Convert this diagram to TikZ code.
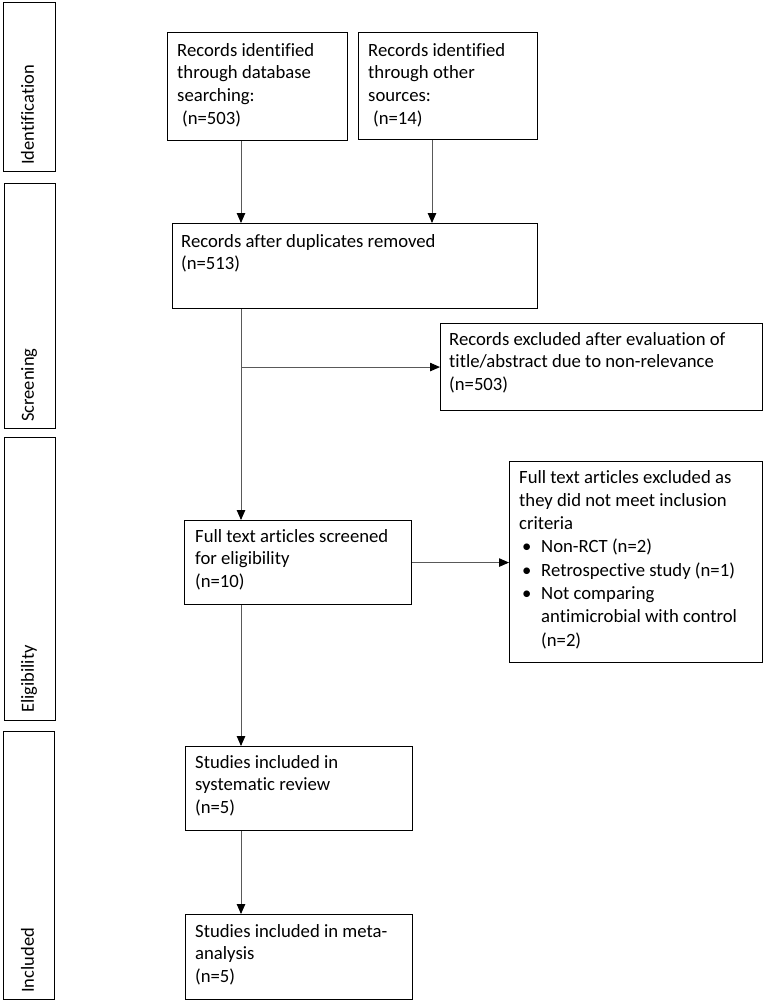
\documentclass[tikz,border=0pt]{standalone}
\usepackage{fontspec}
\setmainfont{Carlito}[Ligatures=NoCommon]
\usetikzlibrary{arrows.meta,calc}
\newcommand{\flowtext}[1]{\begin{tabular}[t]{@{}l@{}}#1\end{tabular}}
\begin{document}
\begin{tikzpicture}[x=1pt,y=-1pt,
  frame/.style={draw=black, line width=1.1pt, inner sep=0pt, anchor=north west},
  txt/.style={anchor=base west, inner sep=0pt, font=\fontsize{18.7}{22.7}\selectfont},
  lab/.style={rotate=90, anchor=base west, inner sep=0pt, font=\fontsize{18.5}{22}\selectfont},
  conn/.style={draw=black!65, line width=0.9pt},
  arr/.style={conn, -{Triangle[length=10pt,width=8.5pt,color=black]}}]
\useasboundingbox (0,0) rectangle (765,1002);
% stage boxes
\node[frame, minimum width=52pt, minimum height=169pt] (id) at (3,2) {};
\node[frame, minimum width=51pt, minimum height=245pt] (scr) at (4,183) {};
\node[frame, minimum width=51pt, minimum height=283pt] (eli) at (4,437) {};
\node[frame, minimum width=51pt, minimum height=268pt] (inc) at (3,731) {};
\node[lab] (idt) at (34,165) {Identification};
\node[lab] (scrt) at (34,422) {Screening};
\node[lab] (elit) at (34,713) {Eligibility};
\node[lab] (inct) at (34,993) {Included};
% flow boxes
\node[frame, minimum width=180pt, minimum height=108pt] (b1) at (167,32) {};
\node[frame, minimum width=179pt, minimum height=107pt] (b2) at (358,32) {};
\node[frame, minimum width=365pt, minimum height=85pt] (dup) at (172,223) {};
\node[frame, minimum width=322pt, minimum height=87pt] (ex1) at (440,323) {};
\node[frame, minimum width=227pt, minimum height=84pt] (scrd) at (184,520) {};
\node[frame, minimum width=253pt, minimum height=201pt] (ex2) at (509,461) {};
\node[frame, minimum width=227pt, minimum height=84pt] (sys) at (185,746) {};
\node[frame, minimum width=227pt, minimum height=85pt] (meta) at (185,914) {};
% texts
\node[txt] (b1t) at ($(b1.north west)+(10,24)$) {\flowtext{Records identified\\through database\\searching:\\\hspace*{5pt}(n=503)}};
\node[txt] (b2t) at ($(b2.north west)+(10,24)$) {\flowtext{Records identified\\through other\\sources:\\\hspace*{5pt}(n=14)}};
\node[txt] (dupt) at ($(dup.north west)+(9,24)$) {\flowtext{Records after duplicates removed\\(n=513)}};
\node[txt] (ex1t) at ($(ex1.north west)+(9,22)$) {\flowtext{Records excluded after evaluation of\\title/abstract due to non-relevance\\(n=503)}};
\node[txt] (scrdt) at ($(scrd.north west)+(11,22)$) {\flowtext{Full text articles screened\\for eligibility\\(n=10)}};
\node[txt, font=\fontsize{18.7}{23.3}\selectfont] (ex2t) at ($(ex2.north west)+(10,22)$) {\flowtext{Full text articles excluded as\\they did not meet inclusion\\criteria\\
\hspace*{3pt}\makebox[19pt][l]{\textbullet}Non-RCT (n=2)\\
\hspace*{3pt}\makebox[19pt][l]{\textbullet}Retrospective study (n=1)\\
\hspace*{3pt}\makebox[19pt][l]{\textbullet}Not comparing\\
\hspace*{22pt}antimicrobial with control\\
\hspace*{22pt}(n=2)}};
\node[txt] (syst) at ($(sys.north west)+(10,22)$) {\flowtext{Studies included in\\systematic review\\(n=5)}};
\node[txt] (metat) at ($(meta.north west)+(10,23)$) {\flowtext{Studies included in meta-\\analysis\\(n=5)}};
% connectors
\coordinate (trunk) at (241,0);
\coordinate (trunkb) at (432,0);
\draw[arr] (b1.south -| trunk) -- (trunk |- dup.north);
\draw[arr] (b2.south -| trunkb) -- (trunkb |- dup.north);
\draw[arr] (trunk |- dup.south) -- (trunk |- scrd.north);
\draw[arr] (trunk |- ex1.west) -- (ex1.west);
\draw[arr] (scrd.east) -- (scrd.east -| ex2.west);
\draw[arr] (trunk |- scrd.south) -- (trunk |- sys.north);
\draw[arr] (trunk |- sys.south) -- (trunk |- meta.north);
\end{tikzpicture}
\end{document}
